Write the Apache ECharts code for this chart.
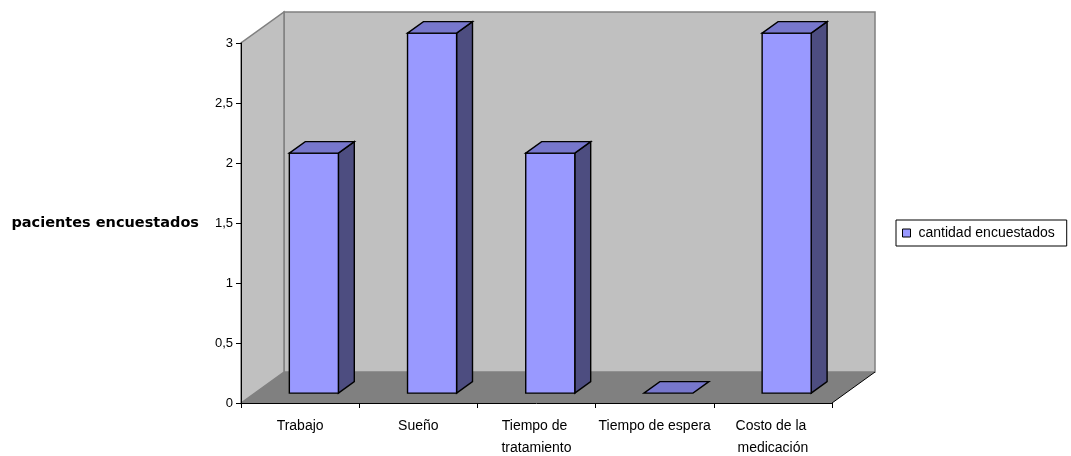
<!DOCTYPE html>
<html>
<head>
<meta charset="utf-8">
<script src="https://cdn.jsdelivr.net/npm/echarts@6/dist/echarts.min.js"></script>
<style>
  html, body { margin: 0; padding: 0; background: #fff; }
  #chart { width: 1071px; height: 456px; }
</style>
</head>
<body>
<div id="chart"></div>
<script>
// Survey data: number of patients per reported factor
const categories = ['Trabajo', 'Sueño', 'Tiempo de tratamiento', 'Tiempo de espera', 'Costo de la medicación'];
const values = [2, 3, 2, 0, 3];
const seriesName = 'cantidad encuestados';
const axisTitle = 'pacientes encuestados';
const yTicks = [0, 0.5, 1, 1.5, 2, 2.5, 3];

// Oblique projection of the depth axis (pixels for full depth)
const DEPTH_X = 43;
const DEPTH_Y = 31;
// Bars sit between these depth fractions
const BAR_FRONT = 0.32;
const BAR_BACK = 0.69;
const BAR_WIDTH_RATIO = 0.415;

const COLORS = {
  wall: '#C0C0C0',
  wallEdge: '#808080',
  floor: '#808080',
  front: '#9999FF',
  top: '#7777CC',
  side: '#4D4D80'
};

const FONT = '"Liberation Sans", Arial, sans-serif';

function renderWalls(params, api) {
  const cs = params.coordSys;
  const x0 = cs.x, x1 = cs.x + cs.width;
  const yTop = cs.y, yBot = cs.y + cs.height;
  const dx = DEPTH_X, dy = DEPTH_Y;
  return {
    type: 'group',
    children: [
      { // back wall
        type: 'rect',
        shape: { x: x0 + dx, y: yTop - dy, width: cs.width, height: cs.height },
        style: { fill: COLORS.wall, stroke: COLORS.wallEdge, lineWidth: 1.5 }
      },
      { // side wall
        type: 'polygon',
        shape: { points: [[x0, yBot], [x0 + dx, yBot - dy], [x0 + dx, yTop - dy], [x0, yTop]] },
        style: { fill: COLORS.wall, stroke: COLORS.wallEdge, lineWidth: 1.5 }
      },
      { // floor
        type: 'polygon',
        shape: { points: [[x0, yBot], [x1, yBot], [x1 + dx, yBot - dy], [x0 + dx, yBot - dy]] },
        style: { fill: COLORS.floor }
      },
      { // floor right edge
        type: 'line',
        shape: { x1: x1, y1: yBot, x2: x1 + dx, y2: yBot - dy },
        style: { stroke: '#000', lineWidth: 1 }
      }
    ]
  };
}

function renderBar(params, api) {
  const idx = api.value(0);
  const val = api.value(1);
  const band = api.size([1, 0])[0];
  const top = api.coord([idx, val]);
  const base = api.coord([idx, 0]);
  const hw = band * BAR_WIDTH_RATIO / 2;
  const fx = BAR_FRONT * DEPTH_X, fy = BAR_FRONT * DEPTH_Y;
  const ddx = (BAR_BACK - BAR_FRONT) * DEPTH_X, ddy = (BAR_BACK - BAR_FRONT) * DEPTH_Y;
  const cx = base[0] + fx;
  const y0 = base[1] - fy;
  const yv = top[1] - fy;
  const l = cx - hw, r = cx + hw;
  const stroke = { stroke: '#000', lineWidth: 1.4, lineJoin: 'miter' };
  const children = [];
  if (val > 0) {
    children.push({
      type: 'polygon',
      shape: { points: [[r, y0], [r + ddx, y0 - ddy], [r + ddx, yv - ddy], [r, yv]] },
      style: Object.assign({ fill: COLORS.side }, stroke)
    });
    children.push({
      type: 'rect',
      shape: { x: l, y: yv, width: r - l, height: y0 - yv },
      style: Object.assign({ fill: COLORS.front }, stroke)
    });
  }
  children.push({
    type: 'polygon',
    shape: { points: [[l, yv], [r, yv], [r + ddx, yv - ddy], [l + ddx, yv - ddy]] },
    style: Object.assign({ fill: COLORS.top }, stroke)
  });
  return { type: 'group', children: children };
}

const chart = echarts.init(document.getElementById('chart'), null, { renderer: 'canvas' });

chart.setOption({
  animation: false,
  backgroundColor: '#fff',
  grid: { left: 241, top: 43, width: 591, height: 360, containLabel: false, outerBoundsMode: 'none' },
  legend: {
    data: [seriesName],
    orient: 'vertical',
    left: 896,
    top: 220,
    padding: [6, 12, 6, 6],
    backgroundColor: '#fff',
    borderColor: '#000',
    borderWidth: 1,
    borderRadius: 0,
    itemWidth: 8,
    itemHeight: 8,
    icon: 'rect',
    itemStyle: { color: COLORS.front, borderColor: '#000', borderWidth: 1 },
    textStyle: { fontFamily: FONT, fontSize: 14, color: '#000', padding: [0, 0, 0, 3] }
  },
  xAxis: {
    type: 'category',
    data: categories,
    z: 10,
    axisLine: { lineStyle: { color: '#000', width: 1 } },
    axisTick: { show: true, length: 5, lineStyle: { color: '#000' } },
    axisLabel: {
      interval: 0,
      margin: 12,
      color: '#000',
      fontFamily: FONT,
      fontSize: 14,
      lineHeight: 22,
      width: 114,
      overflow: 'break'
    },
    splitLine: { show: false }
  },
  yAxis: {
    type: 'value',
    min: yTicks[0],
    max: yTicks[yTicks.length - 1],
    interval: yTicks[1] - yTicks[0],
    z: 10,
    name: axisTitle,
    nameLocation: 'middle',
    nameRotate: 0,
    nameGap: 42,
    nameTextStyle: { fontFamily: '"DejaVu Sans", sans-serif', fontWeight: 'bold', fontSize: 14.5, color: '#000' },
    axisLine: { show: true, lineStyle: { color: '#000', width: 1 } },
    axisTick: { show: true, length: 5, lineStyle: { color: '#000' } },
    axisLabel: {
      margin: 8,
      color: '#000',
      fontFamily: FONT,
      fontSize: 13,
      formatter: function (v) { return String(v).replace('.', ','); }
    },
    splitLine: { show: false }
  },
  series: [
    {
      type: 'custom',
      name: 'walls',
      z: 0,
      silent: true,
      renderItem: renderWalls,
      data: [[0, 0]]
    },
    {
      type: 'custom',
      name: seriesName,
      z: 3,
      itemStyle: { color: COLORS.front },
      renderItem: renderBar,
      encode: { x: 0, y: 1 },
      data: values.map(function (v, i) { return [i, v]; })
    }
  ]
});
</script>
</body>
</html>
